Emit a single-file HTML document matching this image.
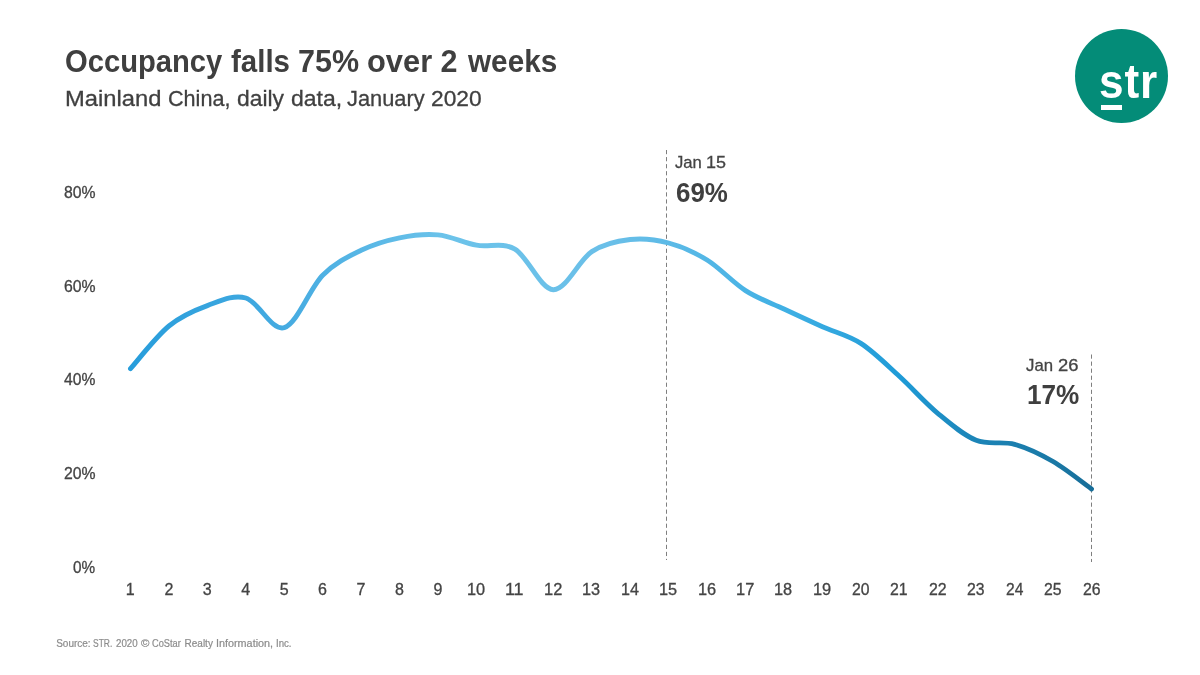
<!DOCTYPE html>
<html lang="en">
<head>
<meta charset="utf-8">
<title>Occupancy falls 75% over 2 weeks</title>
<style>
html,body{margin:0;padding:0;background:#fff;}
body{width:1200px;height:675px;position:relative;overflow:hidden;font-family:"Liberation Sans",sans-serif;color:#404040;}
.ln{position:absolute;left:0;margin:0;width:1200px;line-height:1;white-space:nowrap;font-weight:normal;}
.ln span{position:absolute;top:0;white-space:nowrap;transform-origin:0 0;}
.t{font-size:30.5px;height:30.5px;font-weight:bold;color:#3f3f3f;}
.s{font-size:22.5px;height:22.5px;color:#404040;-webkit-text-stroke:0.3px #404040;}
.l{font-size:16px;height:16px;color:#444;-webkit-text-stroke:0.3px #444;}
.a{font-size:16.2px;height:16.2px;color:#444;-webkit-text-stroke:0.3px #444;}
.b{font-size:28px;height:28px;font-weight:bold;color:#3f3f3f;}
.f{font-size:10px;height:10px;color:#8c8c8c;-webkit-text-stroke:0.2px #8c8c8c;}
svg{position:absolute;left:0;top:0;}
.logo{position:absolute;left:1074.6px;top:29.1px;width:93.3px;height:94.3px;border-radius:50%;background:#048c78;}
.logo span{position:absolute;left:24.77px;top:29px;font-size:48px;font-weight:bold;line-height:1;color:#fff;letter-spacing:0.97px;transform-origin:0 0;transform:scaleX(0.92);}
.logo i{position:absolute;left:26.5px;top:75.9px;width:21.2px;height:4.7px;background:#fff;}
</style>
</head>
<body>
<h1 class="ln t" style="top:46px"><span style="left:65.18px;transform:scaleX(0.9568)">Occupancy</span> <span style="left:231.49px;transform:scaleX(0.9659)">falls</span> <span style="left:297.97px">75%</span> <span style="left:366.74px;transform:scaleX(1.0120)">over</span> <span style="left:440.44px">2</span> <span style="left:467.90px;transform:scaleX(0.9744)">weeks</span></h1>
<h2 class="ln s" style="top:88px"><span style="left:65.42px;transform:scaleX(1.0558)">Mainland</span> <span style="left:168.01px;transform:scaleX(0.9596)">China,</span> <span style="left:236.87px;transform:scaleX(1.0152)">daily</span> <span style="left:291.17px;transform:scaleX(1.0228)">data,</span> <span style="left:347.18px;transform:scaleX(0.9707)">January</span> <span style="left:431.49px;transform:scaleX(1.0116)">2020</span></h2>
<div class="logo"><span>str</span><i></i></div>
<svg width="1200" height="675" viewBox="0 0 1200 675">
<defs>
<linearGradient id="g" gradientUnits="userSpaceOnUse" x1="130" y1="0" x2="1092" y2="0">
<stop offset="0" stop-color="#279ddb"/>
<stop offset="0.16" stop-color="#45abe1"/>
<stop offset="0.33" stop-color="#6cc3ea"/>
<stop offset="0.5" stop-color="#6abfe8"/>
<stop offset="0.68" stop-color="#40b0e4"/>
<stop offset="0.8" stop-color="#1f9bd7"/>
<stop offset="0.875" stop-color="#1c85b8"/>
<stop offset="0.963" stop-color="#1a78a5"/>
<stop offset="1" stop-color="#176d98"/>
</linearGradient>
</defs>
<line x1="666.5" y1="150" x2="666.5" y2="560" stroke="#707070" stroke-width="0.9" stroke-dasharray="4.2 2.85"/>
<line x1="1091.5" y1="354.5" x2="1091.5" y2="562" stroke="#707070" stroke-width="0.9" stroke-dasharray="4.2 2.85"/>
<path d="M130.50 368.60 C136.91 361.50 156.13 336.50 168.94 326.00 C181.75 315.50 194.57 310.27 207.38 305.60 C220.19 300.93 233.01 294.33 245.82 298.00 C258.63 301.67 271.45 331.38 284.26 327.60 C297.07 323.82 309.89 288.18 322.70 275.30 C335.51 262.42 348.33 256.55 361.14 250.30 C373.95 244.05 386.77 240.37 399.58 237.80 C412.39 235.23 425.21 233.67 438.02 234.90 C450.83 236.13 463.65 242.82 476.46 245.20 C489.27 247.58 502.09 241.78 514.90 249.20 C527.71 256.62 540.53 289.30 553.34 289.70 C566.15 290.10 578.97 259.97 591.78 251.60 C604.59 243.23 617.41 240.93 630.22 239.50 C643.03 238.07 655.85 239.58 668.66 243.00 C681.47 246.42 694.29 252.07 707.10 260.00 C719.91 267.93 732.73 282.43 745.54 290.60 C758.35 298.77 771.17 302.98 783.98 309.00 C796.79 315.02 809.61 320.97 822.42 326.70 C835.23 332.43 848.05 335.13 860.86 343.40 C873.67 351.67 886.49 364.65 899.30 376.30 C912.11 387.95 924.93 402.63 937.74 413.30 C950.55 423.97 963.37 435.13 976.18 440.30 C988.99 445.47 1001.81 440.77 1014.62 444.30 C1027.43 447.83 1040.25 454.05 1053.06 461.50 C1065.87 468.95 1085.09 484.42 1091.50 489.00" fill="none" stroke="url(#g)" stroke-width="4.9" stroke-linecap="round" stroke-linejoin="round"/>
</svg>
<div class="ln l" style="top:185px"><span style="left:64.08px;transform:scaleX(0.9853)">80%</span></div>
<div class="ln l" style="top:279px"><span style="left:64.01px;transform:scaleX(0.9875)">60%</span></div>
<div class="ln l" style="top:372px"><span style="left:64.34px;transform:scaleX(0.9771)">40%</span></div>
<div class="ln l" style="top:466px"><span style="left:64.04px;transform:scaleX(0.9864)">20%</span></div>
<div class="ln l" style="top:560px"><span style="left:73.34px;transform:scaleX(0.9578)">0%</span></div>
<div class="ln l" style="top:582px"><span style="left:125.65px">1</span></div>
<div class="ln l" style="top:582px"><span style="left:164.40px">2</span></div>
<div class="ln l" style="top:582px"><span style="left:202.79px">3</span></div>
<div class="ln l" style="top:582px"><span style="left:241.27px">4</span></div>
<div class="ln l" style="top:582px"><span style="left:279.65px">5</span></div>
<div class="ln l" style="top:582px"><span style="left:318.11px">6</span></div>
<div class="ln l" style="top:582px"><span style="left:356.59px">7</span></div>
<div class="ln l" style="top:582px"><span style="left:395.00px">8</span></div>
<div class="ln l" style="top:582px"><span style="left:433.47px">9</span></div>
<div class="ln l" style="top:582px"><span style="left:466.91px;transform:scaleX(1.0166)">10</span></div>
<div class="ln l" style="top:582px"><span style="left:505.24px;transform:scaleX(1.1163)">11</span></div>
<div class="ln l" style="top:582px"><span style="left:543.78px;transform:scaleX(1.0257)">12</span></div>
<div class="ln l" style="top:582px"><span style="left:582.23px;transform:scaleX(1.0200)">13</span></div>
<div class="ln l" style="top:582px"><span style="left:620.68px;transform:scaleX(1.0055)">14</span></div>
<div class="ln l" style="top:582px"><span style="left:659.11px;transform:scaleX(1.0195)">15</span></div>
<div class="ln l" style="top:582px"><span style="left:697.55px;transform:scaleX(1.0217)">16</span></div>
<div class="ln l" style="top:582px"><span style="left:735.98px;transform:scaleX(1.0257)">17</span></div>
<div class="ln l" style="top:582px"><span style="left:774.43px;transform:scaleX(1.0188)">18</span></div>
<div class="ln l" style="top:582px"><span style="left:812.86px;transform:scaleX(1.0247)">19</span></div>
<div class="ln l" style="top:582px"><span style="left:851.91px;transform:scaleX(0.9826)">20</span></div>
<div class="ln l" style="top:582px"><span style="left:890.34px;transform:scaleX(0.9883)">21</span></div>
<div class="ln l" style="top:582px"><span style="left:928.78px;transform:scaleX(0.9911)">22</span></div>
<div class="ln l" style="top:582px"><span style="left:967.22px;transform:scaleX(0.9858)">23</span></div>
<div class="ln l" style="top:582px"><span style="left:1005.67px;transform:scaleX(0.9722)">24</span></div>
<div class="ln l" style="top:582px"><span style="left:1044.10px;transform:scaleX(0.9853)">25</span></div>
<div class="ln l" style="top:582px"><span style="left:1082.54px;transform:scaleX(0.9874)">26</span></div>
<div class="ln a" style="top:154px"><span style="left:675.11px;transform:scaleX(1.0274)">Jan</span> <span style="left:706.34px;transform:scaleX(1.1079)">15</span></div>
<div class="ln b" style="top:179px"><span style="left:675.87px;transform:scaleX(0.9256)">69%</span></div>
<div class="ln a" style="top:357px"><span style="left:1026.00px;transform:scaleX(1.0355)">Jan</span> <span style="left:1057.86px;transform:scaleX(1.1352)">26</span></div>
<div class="ln b" style="top:381px"><span style="left:1026.55px;transform:scaleX(0.9332)">17%</span></div>
<div class="ln f" style="top:639px"><span style="left:56.19px">Source:</span> <span style="left:92.57px;transform:scaleX(0.8467)">STR.</span> <span style="left:115.56px;transform:scaleX(0.9744)">2020</span> <span style="left:140.65px;transform:scaleX(1.1402)">©</span> <span style="left:152.05px;transform:scaleX(0.9275)">CoStar</span> <span style="left:184.54px">Realty</span> <span style="left:215.62px;transform:scaleX(1.0804)">Information,</span> <span style="left:276.00px;transform:scaleX(0.9645)">Inc.</span></div>
</body>
</html>
